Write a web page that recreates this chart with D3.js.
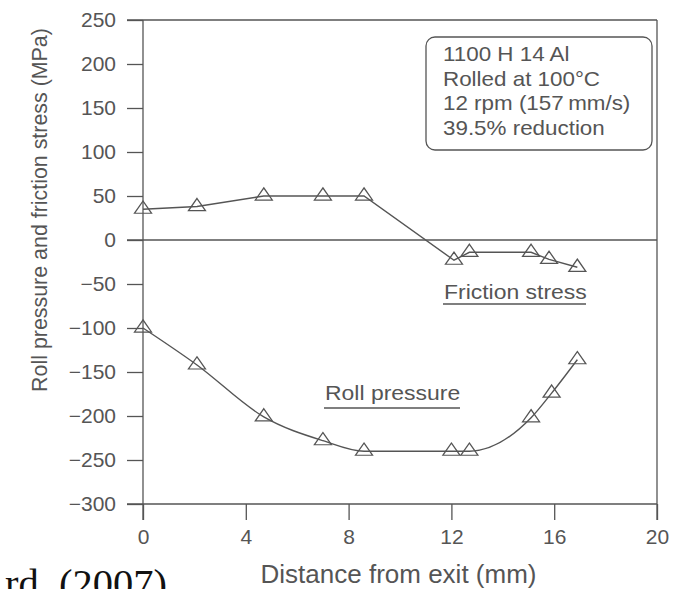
<!DOCTYPE html>
<html>
<head>
<meta charset="utf-8">
<script src="https://cdn.jsdelivr.net/npm/d3@7"></script>
<style>
  html, body { margin: 0; padding: 0; background: #fff; }
  svg { display: block; }
</style>
</head>
<body>
<svg id="chart" width="681" height="589"></svg>
<script>
// Distance from exit (mm) for each measured point
const frictionX = [0, 2.1, 4.7, 7.0, 8.6, 12.1, 12.7, 15.1, 15.8, 16.9];
const frictionY = [35, 38, 50, 50, 50, -23, -14, -14, -22, -31];
const pressureX = [0, 2.1, 4.7, 7.0, 8.6, 12.0, 12.7, 15.1, 15.9, 16.9];
const pressureY = [-100, -142, -201, -228, -240, -240, -240, -202, -174, -136];

const xTicks = [0, 4, 8, 12, 16, 20];
const yTicks = [250, 200, 150, 100, 50, 0, -50, -100, -150, -200, -250, -300];

const infoLines = ["1100 H 14 Al", "Rolled at 100°C", "12 rpm (157\u2009mm/s)", "39.5% reduction"];
const frictionLabel = "Friction stress";
const pressureLabel = "Roll pressure";
const xTitle = "Distance from exit (mm)";
const yTitle = "Roll pressure and friction stress (MPa)";
const citation = "rd. (2007)";

(function draw() {
  const ink = "#555";
  const font = "'Liberation Sans', Arial, Helvetica, sans-serif";

  const svg = d3.select("#chart");
  const pL = 143, pR = 657, pT = 20, pB = 504;

  const x = d3.scaleLinear().domain([0, 20]).range([pL, pR]);
  const y = d3.scaleLinear().domain([-300, 250]).range([pB, pT]);

  const tickLen = 16;
  const tickSX = 1.05;

  // Left axis
  const gy = svg.append("g")
    .attr("transform", `translate(${pL},0)`)
    .call(d3.axisLeft(y).tickValues(yTicks).tickSize(tickLen).tickSizeOuter(0)
      .tickPadding(11).tickFormat(d => d < 0 ? "\u2212" + Math.abs(d) : d));
  gy.select(".domain").attr("stroke", ink).attr("stroke-width", 1.3)
    .attr("d", `M0,${pT}V${pB + tickLen}`);
  gy.selectAll(".tick line").attr("stroke", ink).attr("stroke-width", 1.3);
  gy.selectAll(".tick text")
    .attr("fill", ink).attr("font-family", font).attr("font-size", 20)
    .attr("x", -(tickLen + 11) / tickSX)
    .attr("transform", `scale(${tickSX},1)`);

  // Bottom axis
  const gx = svg.append("g")
    .attr("transform", `translate(0,${pB})`)
    .call(d3.axisBottom(x).tickValues(xTicks).tickSize(tickLen).tickSizeOuter(0).tickPadding(10));
  gx.select(".domain").attr("stroke", ink).attr("stroke-width", 1.3)
    .attr("d", `M${pL - tickLen},0H${pR}`);
  gx.selectAll(".tick line").attr("stroke", ink).attr("stroke-width", 1.3);
  gx.selectAll(".tick text")
    .attr("fill", ink).attr("font-family", font).attr("font-size", 20)
    .attr("transform", `scale(${tickSX},1)`);

  // Frame: top edge and right edge
  svg.append("line")
    .attr("x1", pL - tickLen).attr("x2", pR)
    .attr("y1", y(250)).attr("y2", y(250))
    .attr("stroke", ink).attr("stroke-width", 1.3);
  svg.append("line")
    .attr("x1", pR).attr("x2", pR)
    .attr("y1", y(250)).attr("y2", pB + tickLen)
    .attr("stroke", ink).attr("stroke-width", 1.3);

  // Zero reference line
  svg.append("line")
    .attr("x1", pL - tickLen).attr("x2", pR)
    .attr("y1", y(0)).attr("y2", y(0))
    .attr("stroke", ink).attr("stroke-width", 1.3);

  // Series
  const friction = frictionX.map((d, i) => [d, frictionY[i]]);
  const pressure = pressureX.map((d, i) => [d, pressureY[i]]);

  svg.append("path")
    .datum(friction)
    .attr("fill", "none").attr("stroke", ink).attr("stroke-width", 1.4)
    .attr("d", d3.line().x(d => x(d[0])).y(d => y(d[1])));

  svg.append("path")
    .datum(pressure)
    .attr("fill", "none").attr("stroke", ink).attr("stroke-width", 1.4)
    .attr("d", d3.line().curve(d3.curveMonotoneX).x(d => x(d[0])).y(d => y(d[1])));

  // Open triangle markers
  const tri = d3.symbol().type(d3.symbolTriangle).size(95);
  [friction, pressure].forEach(series => {
    svg.append("g").selectAll("path")
      .data(series)
      .join("path")
      .attr("transform", d => `translate(${x(d[0])},${y(d[1])}) scale(1.15,0.95)`)
      .attr("d", tri)
      .attr("fill", "none")
      .attr("stroke", ink)
      .attr("stroke-width", 1.2);
  });

  // Curve labels, underlined
  function underlinedLabel(text, tx, ty, uy, ux2) {
    svg.append("text")
      .attr("transform", `translate(${tx},${ty}) scale(1.12,1)`)
      .attr("fill", ink).attr("font-family", font).attr("font-size", 20.5)
      .text(text);
    svg.append("line")
      .attr("x1", tx - 1).attr("x2", ux2)
      .attr("y1", uy).attr("y2", uy)
      .attr("stroke", ink).attr("stroke-width", 1.4);
  }
  underlinedLabel(frictionLabel, 444, 299, 304, 586);
  underlinedLabel(pressureLabel, 325, 400, 408, 460);

  // Rolling conditions box
  svg.append("rect")
    .attr("x", 426).attr("y", 37).attr("width", 226).attr("height", 113)
    .attr("rx", 9).attr("ry", 9)
    .attr("fill", "#fff").attr("stroke", ink).attr("stroke-width", 1.3);
  svg.append("g").selectAll("text")
    .data(infoLines)
    .join("text")
    .attr("transform", (d, i) => `translate(443,${61 + i * 24.7}) scale(1.12,1)`)
    .attr("fill", ink).attr("font-family", font).attr("font-size", 20)
    .text(d => d);

  // Axis titles
  svg.append("text")
    .attr("transform", "translate(398.5,582.5)")
    .attr("text-anchor", "middle")
    .attr("fill", ink).attr("font-family", font).attr("font-size", 26)
    .text(xTitle);

  svg.append("text")
    .attr("transform", "translate(47,210) rotate(-90)")
    .attr("text-anchor", "middle")
    .attr("fill", ink).attr("font-family", font).attr("font-size", 21.4)
    .text(yTitle);

  // Citation fragment along the lower edge
  svg.append("text")
    .attr("x", 5).attr("y", 597)
    .attr("fill", "#111")
    .attr("font-family", "'Liberation Serif', 'Times New Roman', serif")
    .attr("font-size", 40.5)
    .text(citation);
})();
</script>
</body>
</html>
